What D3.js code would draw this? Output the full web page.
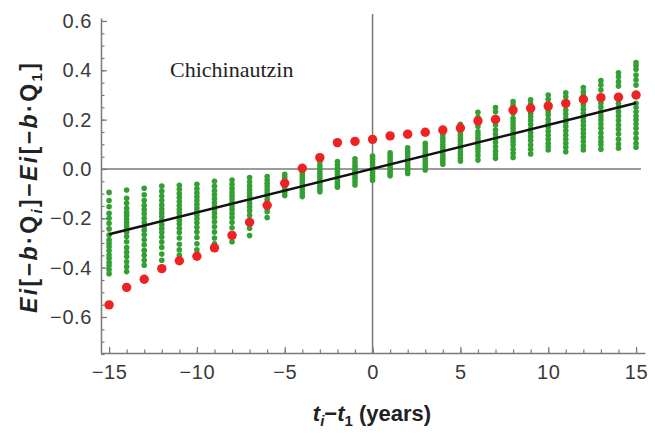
<!DOCTYPE html>
<html>
<head>
<meta charset="utf-8">
<script src="https://cdn.jsdelivr.net/npm/d3@7/dist/d3.min.js"></script>
<style>
  body { margin: 0; background: #fff; }
  svg { display: block; }
</style>
</head>
<body>
<svg width="655" height="436"></svg>
<script>
// years since first sample
var tYears = [-15,-14,-13,-12,-11,-10,-9,-8,-7,-6,-5,-4,-3,-2,-1,0,1,2,3,4,5,6,7,8,9,10,11,12,13,14,15];

// observed series (red)
var observed = [-0.551,-0.480,-0.447,-0.404,-0.372,-0.354,-0.320,-0.269,-0.216,-0.147,-0.058,
  0.003,0.046,0.107,0.112,0.120,0.134,0.141,0.149,0.158,0.166,0.195,0.201,0.239,0.246,
  0.255,0.266,0.282,0.289,0.291,0.300];

// simulated values, one column per year (green)
var simulated = [
  [-0.095,-0.128,-0.153,-0.180,-0.200,-0.220,-0.243,-0.268,-0.288,-0.301,-0.315,-0.332,-0.349,-0.362,-0.378,-0.392,-0.409,-0.425],
  [-0.085,-0.119,-0.139,-0.159,-0.176,-0.189,-0.203,-0.216,-0.230,-0.243,-0.257,-0.274,-0.295,-0.319,-0.338,-0.355,-0.376,-0.396,-0.416],
  [-0.078,-0.105,-0.128,-0.148,-0.165,-0.182,-0.200,-0.217,-0.233,-0.249,-0.267,-0.287,-0.307,-0.330,-0.350,-0.370,-0.390],
  [-0.069,-0.090,-0.110,-0.128,-0.146,-0.162,-0.178,-0.194,-0.210,-0.226,-0.242,-0.258,-0.276,-0.296,-0.318,-0.345,-0.370],
  [-0.066,-0.082,-0.100,-0.116,-0.132,-0.148,-0.163,-0.178,-0.193,-0.208,-0.223,-0.240,-0.258,-0.280,-0.305,-0.328,-0.350],
  [-0.062,-0.080,-0.097,-0.113,-0.128,-0.143,-0.158,-0.172,-0.187,-0.202,-0.218,-0.236,-0.256,-0.278,-0.303,-0.328],
  [-0.050,-0.070,-0.088,-0.105,-0.121,-0.136,-0.150,-0.165,-0.180,-0.196,-0.214,-0.234,-0.256,-0.280,-0.303],
  [-0.045,-0.062,-0.078,-0.093,-0.108,-0.122,-0.136,-0.150,-0.164,-0.180,-0.197,-0.216,-0.238,-0.265,-0.295],
  [-0.035,-0.052,-0.068,-0.083,-0.097,-0.111,-0.125,-0.139,-0.154,-0.170,-0.188,-0.210,-0.240,-0.270],
  [-0.031,-0.045,-0.058,-0.071,-0.084,-0.097,-0.110,-0.124,-0.140,-0.160,-0.173,-0.197],
  [-0.022,-0.034,-0.046,-0.058,-0.070,-0.082,-0.094,-0.108],
  [-0.012,-0.024,-0.036,-0.048,-0.060,-0.072,-0.085,-0.098,-0.112],
  [0.030,0.015,0.002,-0.010,-0.022,-0.034,-0.046,-0.058,-0.070,-0.082,-0.092],
  [0.030,0.016,0.004,-0.008,-0.020,-0.032,-0.044,-0.056,-0.066,-0.074],
  [0.041,0.028,0.016,0.005,-0.006,-0.017,-0.028,-0.040,-0.052,-0.065],
  [0.052,0.040,0.028,0.017,0.007,-0.003,-0.013,-0.024,-0.035,-0.046],
  [0.066,0.054,0.042,0.031,0.020,0.010,0.000,-0.010,-0.019,-0.027],
  [0.086,0.073,0.061,0.049,0.038,0.027,0.016,0.006,-0.005,-0.018],
  [0.104,0.090,0.077,0.065,0.053,0.042,0.031,0.020,0.009,-0.004],
  [0.138,0.124,0.111,0.098,0.086,0.074,0.062,0.050,0.039,0.029,0.019],
  [0.181,0.165,0.151,0.138,0.124,0.111,0.097,0.084,0.070,0.057,0.043,0.032],
  [0.230,0.209,0.192,0.172,0.151,0.138,0.124,0.111,0.097,0.084,0.070,0.054,0.036],
  [0.249,0.232,0.178,0.158,0.141,0.124,0.108,0.090,0.073,0.057,0.043],
  [0.273,0.259,0.226,0.205,0.192,0.178,0.165,0.151,0.138,0.124,0.111,0.097,0.080,0.064,0.047],
  [0.280,0.263,0.226,0.212,0.196,0.180,0.163,0.147,0.131,0.115,0.097,0.080,0.061],
  [0.300,0.282,0.232,0.219,0.201,0.185,0.169,0.153,0.137,0.120,0.104,0.090,0.077],
  [0.309,0.293,0.239,0.223,0.205,0.188,0.172,0.155,0.138,0.120,0.104,0.088,0.070],
  [0.330,0.313,0.300,0.259,0.242,0.226,0.209,0.193,0.177,0.161,0.145,0.128,0.111,0.093,0.077],
  [0.358,0.340,0.320,0.266,0.250,0.232,0.215,0.199,0.182,0.165,0.147,0.128,0.111,0.097,0.080],
  [0.390,0.374,0.354,0.336,0.266,0.250,0.232,0.215,0.196,0.178,0.161,0.142,0.120,0.101,0.084],
  [0.431,0.418,0.404,0.381,0.361,0.340,0.266,0.250,0.232,0.215,0.199,0.182,0.165,0.145,0.124,0.104,0.088]
];

// fitted trend line end points
var fitT = [-15, 15];
var fitE = [-0.265, 0.267];

var xMajor = [-15,-10,-5,0,5,10,15];
var yMajor = [-0.6,-0.4,-0.2,0,0.2,0.4,0.6];

// set the dimensions and margins of the plot
var margin = { top: 18, right: 10, bottom: 83, left: 101 },
    width = 655 - margin.left - margin.right,
    height = 436 - margin.top - margin.bottom;

var svg = d3.select("svg");
var g = svg.append("g")
    .attr("transform", "translate(" + margin.left + "," + margin.top + ")");

var x = d3.scaleLinear().domain([-15.46, 15.51]).range([0, width]);
var y = d3.scaleLinear().domain([-0.746, 0.612]).range([height, 0]);

var fmtMinus = function (s) { return s.replace("-", "\u2212"); };
var axisGray = "#7a7a7a";

// gray zero axes
g.append("line")
    .attr("x1", 0).attr("x2", width - 4)
    .attr("y1", y(0)).attr("y2", y(0))
    .attr("stroke", axisGray).attr("stroke-width", 1.5);
g.append("line")
    .attr("x1", x(0)).attr("x2", x(0))
    .attr("y1", -4).attr("y2", height)
    .attr("stroke", axisGray).attr("stroke-width", 1.5);

// minor ticks
var minorX = d3.range(-15, 16, 1);
var minorY = d3.range(-0.75, 0.6001, 0.05);

g.append("g")
    .attr("transform", "translate(0," + height + ")")
    .call(d3.axisBottom(x).tickValues(minorX).tickSize(-3.5).tickFormat(""))
    .call(function (a) { a.select(".domain").remove(); });
g.append("g")
    .call(d3.axisLeft(y).tickValues(minorY).tickSize(-3.5).tickFormat(""))
    .call(function (a) { a.select(".domain").remove(); });

// major axes
var xAxis = g.append("g")
    .attr("transform", "translate(0," + height + ")")
    .call(d3.axisBottom(x).tickValues(xMajor).tickSize(-6).tickSizeOuter(0).tickPadding(12)
        .tickFormat(function (d) { return fmtMinus(d3.format("d")(d)); }));
var yAxis = g.append("g")
    .call(d3.axisLeft(y).tickValues(yMajor).tickSize(-6).tickSizeOuter(0).tickPadding(9)
        .tickFormat(function (d) { return fmtMinus(d3.format(".1f")(d)); }));

svg.selectAll(".tick line").attr("stroke", axisGray).attr("stroke-width", 1.2);
svg.selectAll(".domain").attr("stroke", axisGray).attr("stroke-width", 1.5);
svg.selectAll(".tick text")
    .attr("fill", "#3a3a3a")
    .style("font-family", "'Liberation Sans', Arial, sans-serif")
    .style("font-size", "20px")
    .style("letter-spacing", "0.6px");
xAxis.selectAll(".tick text").attr("dy", "0.71em");

// green simulated columns
var cols = g.append("g");
simulated.forEach(function (vals, i) {
    cols.selectAll(null)
        .data(vals)
        .enter().append("circle")
        .attr("cx", x(tYears[i]))
        .attr("cy", function (d) { return y(d); })
        .attr("r", 2.8)
        .attr("fill", "#34a034");
});

// black trend line
g.append("path")
    .datum(d3.zip(fitT, fitE))
    .attr("fill", "none")
    .attr("stroke", "#111")
    .attr("stroke-width", 2.6)
    .attr("d", d3.line().x(function (d) { return x(d[0]); }).y(function (d) { return y(d[1]); }));

// red observed points
g.selectAll(".obs")
    .data(observed)
    .enter().append("circle")
    .attr("class", "obs")
    .attr("cx", function (d, i) { return x(tYears[i]); })
    .attr("cy", function (d) { return y(d); })
    .attr("r", 4.7)
    .attr("fill", "#ee2222");

// site label
svg.append("text")
    .attr("x", 170).attr("y", 77)
    .style("font-family", "'Liberation Serif', 'Times New Roman', serif")
    .style("font-size", "22px")
    .attr("fill", "#222")
    .text("Chichinautzin");

// axis titles
var titleFont = "'Liberation Sans', Arial, sans-serif";
var xt = svg.append("text")
    .attr("x", 372).attr("y", 421)
    .attr("text-anchor", "middle")
    .style("font-family", titleFont).style("font-size", "22px").style("font-weight", "bold")
    .attr("fill", "#222");
xt.append("tspan").style("font-style", "italic").text("t");
xt.append("tspan").style("font-style", "italic").style("font-size", "15px").attr("dy", 5).text("i");
xt.append("tspan").attr("dy", -5).text("\u2212");
xt.append("tspan").style("font-style", "italic").text("t");
xt.append("tspan").style("font-size", "15px").attr("dy", 5).text("1");
xt.append("tspan").attr("dy", -5).text(" (years)");

var yt = svg.append("text")
    .attr("transform", "translate(37,188) rotate(-90)")
    .attr("text-anchor", "middle")
    .style("font-family", titleFont).style("font-size", "23px").style("font-weight", "bold")
    .attr("fill", "#222");
var parts = [
    ["Ei", "italic", 0], ["[\u2212", "normal", 0], ["b", "italic", 0], ["\u00b7Q", "normal", 0],
    ["i", "italic", 5], ["]\u2212", "normal", -5], ["Ei", "italic", 0], ["[\u2212", "normal", 0],
    ["b", "italic", 0], ["\u00b7Q", "normal", 0], ["1", "normal", 5], ["]", "normal", -5]
];
parts.forEach(function (p) {
    var t = yt.append("tspan").style("font-style", p[1]).attr("dy", p[2]).text(p[0]);
    if (p[2] > 0) t.style("font-size", "15px");
});
yt.attr("textLength", 250).attr("lengthAdjust", "spacing");
</script>
</body>
</html>
